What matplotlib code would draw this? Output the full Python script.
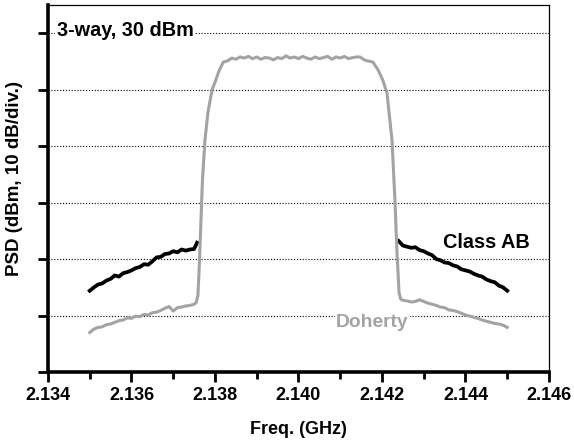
import matplotlib
matplotlib.use("Agg")
import matplotlib.pyplot as plt
from matplotlib.ticker import MultipleLocator

plt.rcParams["font.family"] = ["Liberation Sans", "DejaVu Sans"]
plt.rcParams["font.weight"] = "bold"

# Class AB, lower adjacent channel (GHz, dB)
ab_lo_f = [2.1350, 2.1351, 2.1352, 2.1353, 2.1354, 2.1355, 2.1356, 2.1357, 2.1358,
           2.1359, 2.1360, 2.1361, 2.1362, 2.1363, 2.1364, 2.1365, 2.1366, 2.1367,
           2.1368, 2.1369, 2.1370, 2.1371, 2.1372, 2.1373, 2.1374, 2.1375, 2.13757]
ab_lo_p = [14.4, 15.0, 15.5, 15.7, 16.2, 16.5, 17.1, 16.9, 17.5,
           17.7, 18.0, 18.4, 18.6, 19.1, 19.0, 19.6, 20.3, 20.4,
           20.9, 21.0, 21.4, 21.2, 21.7, 21.5, 21.7, 21.8, 22.9]

# Class AB, upper adjacent channel
ab_hi_f = [2.14240, 2.1425, 2.1426, 2.1427, 2.1428, 2.1429, 2.1430, 2.1431, 2.1432,
           2.1433, 2.1434, 2.1435, 2.1436, 2.1437, 2.1438, 2.1439, 2.1440, 2.1441,
           2.1442, 2.1443, 2.1444, 2.1445, 2.1446, 2.1447, 2.1448, 2.1449, 2.1450]
ab_hi_p = [23.2, 22.4, 22.2, 22.0, 22.1, 21.6, 21.4, 21.0, 20.7,
           20.0, 19.8, 19.4, 19.3, 18.9, 18.7, 18.2, 18.0, 17.8,
           17.4, 17.1, 16.9, 16.4, 16.1, 15.9, 15.3, 15.0, 14.4]

# Doherty, full span
doh_f = [2.1350, 2.1351, 2.1352, 2.1353, 2.1354, 2.1355, 2.1356, 2.1357, 2.1358,
         2.1359, 2.1360, 2.1361, 2.1362, 2.1363, 2.1364, 2.1365, 2.1366, 2.1367,
         2.1368, 2.1369, 2.1370, 2.1371, 2.1372, 2.1373, 2.1374, 2.1375, 2.13755,
         2.13759, 2.13762, 2.13766, 2.13770, 2.13776, 2.13783, 2.13793, 2.13800,
         2.13810, 2.13820, 2.1383, 2.1384,
         2.1385, 2.1386, 2.1387, 2.1388, 2.1389, 2.1390, 2.1391, 2.1392, 2.1393,
         2.1394, 2.1395, 2.1396, 2.1397, 2.1398, 2.1399, 2.1400, 2.1401, 2.1402,
         2.1403, 2.1404, 2.1405, 2.1406, 2.1407, 2.1408, 2.1409, 2.1410, 2.1411,
         2.1412, 2.1413, 2.1414, 2.14147,
         2.1416, 2.14178, 2.1419, 2.14202, 2.14212, 2.14224, 2.14231, 2.14236,
         2.14241, 2.14245,
         2.1425, 2.1426, 2.1427, 2.1428, 2.1429, 2.1430, 2.1431, 2.1432, 2.1433,
         2.1434, 2.1435, 2.1436, 2.1437, 2.1438, 2.1439, 2.1440, 2.1441, 2.1442,
         2.1443, 2.1444, 2.1445, 2.1446, 2.1447, 2.1448, 2.1449, 2.1450]
doh_p = [7.0, 7.6, 7.9, 8.0, 8.4, 8.5, 8.8, 9.1, 9.2,
         9.6, 9.5, 9.9, 9.8, 10.2, 10.1, 10.5, 10.6, 10.9,
         11.3, 11.6, 10.8, 11.4, 11.5, 11.7, 11.8, 12.0, 12.3,
         13.5, 18.0, 26.0, 34.0, 41.1, 45.9, 50.0, 51.3,
         53.4, 54.9, 55.1, 55.6,
         55.4, 55.8, 55.6, 55.9, 55.5, 55.8, 55.4, 55.7, 55.6,
         55.3, 55.7, 55.5, 56.0, 55.6, 55.8, 55.5, 55.9, 55.6,
         55.4, 55.8, 55.5, 55.7, 55.9, 55.4, 55.8, 55.6, 55.9,
         55.5, 55.7, 55.8, 55.8,
         55.2, 54.9, 53.6, 51.7, 49.4, 41.1, 30.5, 21.1,
         14.0, 12.9,
         12.7, 12.6, 12.4, 12.5, 12.8, 12.5, 12.2, 12.0, 11.8,
         11.5, 11.4, 11.0, 10.9, 10.7, 10.4, 10.1, 9.9, 9.7,
         9.5, 9.2, 9.0, 8.8, 8.6, 8.5, 8.3, 7.9]

x_ticks = [2.134, 2.136, 2.138, 2.140, 2.142, 2.144, 2.146]
x_labels = ["2.134", "2.136", "2.138", "2.140", "2.142", "2.144", "2.146"]

GRAY = "#a3a3a3"

fig = plt.figure(figsize=(5.74, 4.4), dpi=100)
ax = fig.add_axes([0.0836, 0.1545, 0.8728, 0.8341])

ax.plot(ab_lo_f, ab_lo_p, color="black", lw=2.7, zorder=3)
ax.plot(ab_hi_f, ab_hi_p, color="black", lw=2.7, zorder=3)
ax.plot(doh_f, doh_p, color=GRAY, lw=2.2, zorder=4)

ax.set_xlim(2.134, 2.146)
ax.set_ylim(0, 65)
ax.set_xticks(x_ticks)
ax.set_xticklabels(x_labels)
ax.xaxis.set_minor_locator(MultipleLocator(0.001))
ax.set_yticks(range(0, 61, 10))
ax.set_yticklabels([])

for y in range(10, 61, 10):
    ax.axhline(y, color="black", lw=0.8, ls=(0, (1, 1.6)), zorder=1)

ax.spines["left"].set_linewidth(2.6)
ax.spines["bottom"].set_linewidth(2.6)
ax.spines["top"].set_linewidth(0.9)
ax.spines["right"].set_linewidth(0.9)
ax.tick_params(axis="both", which="major", direction="out", length=7, width=2)
ax.tick_params(axis="x", which="minor", direction="out", length=5, width=2)
ax.tick_params(axis="x", labelsize=13, pad=4)

ax.set_xlabel("Freq. (GHz)", fontsize=13, fontweight="bold", labelpad=12)
ax.set_ylabel("PSD (dBm, 10 dB/div.)", fontsize=13.5, fontweight="bold")
ax.yaxis.set_label_coords(-0.05, 0.527)

ax.text(2.13421, 60.5, "3-way, 30 dBm", fontsize=14.3, fontweight="bold",
        va="center", ha="left", zorder=5,
        bbox=dict(facecolor="white", edgecolor="none", pad=1))
ax.text(2.14346, 23.0, "Class AB", fontsize=14.3, fontweight="bold",
        va="center", ha="left", zorder=5)
ax.text(2.14090, 8.7, "Doherty", fontsize=13.9, fontweight="bold", color=GRAY,
        va="center", ha="left", zorder=5,
        bbox=dict(facecolor="white", edgecolor="none", pad=1))

fig.savefig("out.png", dpi=100)
